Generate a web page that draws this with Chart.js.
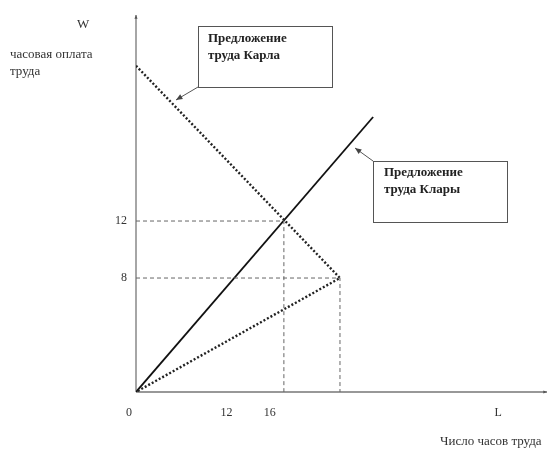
<!DOCTYPE html>
<html>
<head>
<meta charset="utf-8">
<script src="https://cdn.jsdelivr.net/npm/chart.js@4"></script>
<style>
  html, body { margin: 0; padding: 0; background: #fff; }
  canvas { display: block; }
</style>
</head>
<body>
<canvas id="c" width="549" height="449"></canvas>
<script>
// Предложение труда Клары (сплошная) и Карла (пунктир с изломом)
var claraL = [0, 18.6];
var claraW = [0, 19.3];
var carlL = [0, 16, 0];
var carlW = [22.9, 8, 0];
// вспомогательные пунктиры к осям
var guide12L = [0, 11.6, 11.6];
var guide12W = [12, 12, 0];
var guide8L = [0, 16, 16];
var guide8W = [8, 8, 0];
// подписи делений (как на рисунке)
var xTickText = ["0", "12", "16", "L"];
var xTickAt = [-0.55, 7.1, 10.5, 28.4];
var yTickText = ["12", "8"];
var yTickAt = [12, 8];

function pts(xs, ys) { return xs.map(function (x, i) { return { x: x, y: ys[i] }; }); }

var SERIF = "'Liberation Serif', 'DejaVu Serif', serif";

function arrowHead(ctx, x1, y1, x2, y2, size) {
  var a = Math.atan2(y2 - y1, x2 - x1);
  ctx.beginPath();
  ctx.moveTo(x2, y2);
  ctx.lineTo(x2 - size * Math.cos(a - 0.4), y2 - size * Math.sin(a - 0.4));
  ctx.lineTo(x2 - size * Math.cos(a + 0.4), y2 - size * Math.sin(a + 0.4));
  ctx.closePath();
  ctx.fill();
}

var decor = {
  id: "decor",
  beforeDatasetsDraw: function (chart) {
    var ctx = chart.ctx, xs = chart.scales.x, ys = chart.scales.y;
    var x0 = xs.getPixelForValue(0), y0 = ys.getPixelForValue(0);
    ctx.save();
    ctx.strokeStyle = "#777";
    ctx.fillStyle = "#555";
    ctx.lineWidth = 1.3;
    ctx.beginPath();
    ctx.moveTo(x0, y0); ctx.lineTo(x0, ys.top);
    ctx.moveTo(x0, y0); ctx.lineTo(xs.right, y0);
    ctx.stroke();
    arrowHead(ctx, x0, y0, x0, ys.top, 4);
    arrowHead(ctx, x0, y0, xs.right, y0, 4);
    ctx.restore();
  },
  afterDatasetsDraw: function (chart) {
    var ctx = chart.ctx, xs = chart.scales.x, ys = chart.scales.y;
    var y0 = ys.getPixelForValue(0), x0 = xs.getPixelForValue(0);
    ctx.save();
    ctx.fillStyle = "#333";
    ctx.font = "12px " + SERIF;
    ctx.textBaseline = "middle";
    ctx.textAlign = "center";
    xTickText.forEach(function (t, i) { ctx.fillText(t, xs.getPixelForValue(xTickAt[i]), y0 + 21); });
    ctx.textAlign = "right";
    yTickText.forEach(function (t, i) { ctx.fillText(t, x0 - 9, ys.getPixelForValue(yTickAt[i])); });

    ctx.textAlign = "left";
    ctx.font = "13px " + SERIF;
    ctx.fillText("W", 77, 25);
    ctx.fillText("часовая оплата", 10, 55);
    ctx.fillText("труда", 10, 72);
    ctx.fillText("Число часов труда", 440, 442);

    // выноски
    ctx.strokeStyle = "#555";
    ctx.fillStyle = "#444";
    ctx.lineWidth = 1;
    ctx.strokeRect(198.5, 26.5, 134, 61);
    ctx.strokeRect(373.5, 161.5, 134, 61);
    ctx.beginPath();
    ctx.moveTo(198, 87); ctx.lineTo(176, 100);
    ctx.moveTo(373, 161); ctx.lineTo(355, 148);
    ctx.stroke();
    arrowHead(ctx, 198, 87, 176, 100, 7);
    arrowHead(ctx, 373, 161, 355, 148, 7);

    ctx.fillStyle = "#222";
    ctx.font = "bold 13px " + SERIF;
    ctx.fillText("Предложение", 208, 39);
    ctx.fillText("труда Карла", 208, 56);
    ctx.fillText("Предложение", 384, 173);
    ctx.fillText("труда Клары", 384, 190);
    ctx.restore();
  }
};

new Chart(document.getElementById("c"), {
  type: "scatter",
  data: {
    datasets: [
      { data: pts(guide12L, guide12W), showLine: true, borderColor: "#666", borderWidth: 1, borderDash: [4, 3], pointRadius: 0, fill: false },
      { data: pts(guide8L, guide8W), showLine: true, borderColor: "#666", borderWidth: 1, borderDash: [4, 3], pointRadius: 0, fill: false },
      { data: pts(carlL, carlW), showLine: true, borderColor: "#222", borderWidth: 2.4, borderDash: [2, 2], pointRadius: 0, fill: false },
      { data: pts(claraL, claraW), showLine: true, borderColor: "#111", borderWidth: 1.8, pointRadius: 0, fill: false }
    ]
  },
  options: {
    responsive: false,
    animation: false,
    layout: { padding: { left: 136, top: 15, right: 2, bottom: 57 } },
    plugins: { legend: { display: false }, tooltip: { enabled: false } },
    scales: {
      x: { type: "linear", min: 0, max: 32.24, display: false },
      y: { type: "linear", min: 0, max: 26.46, display: false }
    }
  },
  plugins: [decor]
});
</script>
</body>
</html>
